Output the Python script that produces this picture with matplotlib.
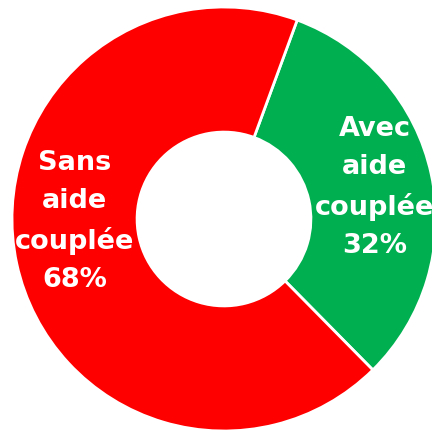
import matplotlib.pyplot as plt

labels = ["Avec\naide\ncouplée", "Sans\naide\ncouplée"]
shares = [32, 68]
colours = ["#00B050", "#FF0000"]

W, H = 432, 430
CX, CY, R = 224, 219, 212

fig = plt.figure(figsize=(W / 100, H / 100), dpi=100)
ax = fig.add_axes([0, 0, 1, 1])

wedges, _ = ax.pie(shares, colors=colours, startangle=69.8, counterclock=False,
                   radius=1.0,
                   wedgeprops=dict(width=0.59, edgecolor="white", linewidth=2))

# label centres (in radius units)
label_pos = [(0.712, 0.15), (-0.703, -0.01)]
for (x, y), lab, val in zip(label_pos, labels, shares):
    ax.text(x, y, f"{lab}\n{val}%", ha="center", va="center",
            color="white", fontsize=19.5, fontweight="bold",
            family="DejaVu Sans", linespacing=1.6)

ax.set_xlim(-CX / R, (W - CX) / R)
ax.set_ylim(-(H - CY) / R, CY / R)
ax.set_aspect("auto")
ax.axis("off")

fig.savefig("out.png", dpi=100)
